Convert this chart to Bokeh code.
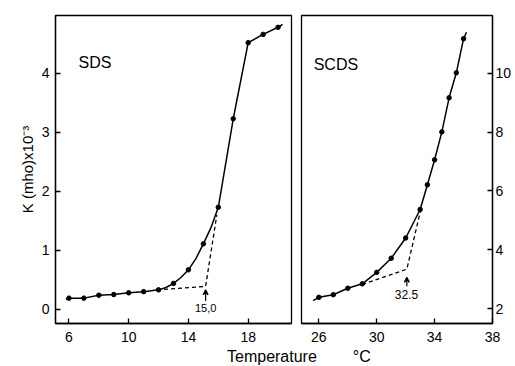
from bokeh.plotting import figure
from bokeh.layouts import row, column
from bokeh.models import Div, Label, Arrow, VeeHead, FixedTicker
from bokeh.embed import file_html
from bokeh.resources import INLINE

FONT = "Liberation Sans"

# ---- SDS (left panel) ----
sds_t = [6, 7, 8, 9, 10, 11, 12, 13, 14, 15, 16, 17, 18, 19, 20]
sds_k = [0.19, 0.19, 0.24, 0.25, 0.28, 0.30, 0.33, 0.44, 0.67, 1.11, 1.73, 3.23, 4.52, 4.66, 4.78]
sds_curve_t = [5.8, 6, 7, 8, 9, 10, 11, 12, 12.5, 13, 13.5, 14, 14.5, 15, 15.5, 16, 17, 18, 19, 20, 20.3]
sds_curve_k = [0.17, 0.19, 0.19, 0.24, 0.25, 0.28, 0.30, 0.33, 0.37, 0.44, 0.54, 0.67, 0.86, 1.11, 1.38, 1.73, 3.23, 4.52, 4.66, 4.78, 4.83]
sds_dash_t = [11.9, 15.15, 15.9]
sds_dash_k = [0.33, 0.39, 1.6]
sds_cmc_label = "15,0"
sds_arrow_x = [15.15, 15.15]
sds_arrow_y = [0.14, 0.33]
sds_xticks = [6, 10, 14, 18]
sds_yticks = [0, 1, 2, 3, 4]

# ---- SCDS (right panel) ----
scds_t = [26, 27, 28, 29, 30, 31, 32, 33, 33.5, 34, 34.5, 35, 35.5, 36]
scds_k = [2.38, 2.47, 2.69, 2.84, 3.23, 3.71, 4.40, 5.37, 6.21, 7.06, 8.01, 9.17, 10.02, 11.18]
scds_curve_t = [25.6] + scds_t + [36.2]
scds_curve_k = [2.27] + scds_k + [11.4]
scds_dash_t = [29.0, 32.08, 33.03]
scds_dash_k = [2.82, 3.34, 5.34]
scds_cmc_label = "32.5"
scds_arrow_x = [32.08, 32.08]
scds_arrow_y = [2.76, 3.06]
scds_xticks = [26, 30, 34, 38]
scds_yticks = [2, 4, 6, 8, 10]


def style(p, xticks, yticks):
    p.grid.visible = False
    p.outline_line_color = "black"
    p.outline_line_width = 1.3
    p.xaxis.ticker = FixedTicker(ticks=xticks)
    p.yaxis.ticker = FixedTicker(ticks=yticks)
    for ax in p.xaxis + p.yaxis:
        ax.minor_tick_line_color = None
        ax.major_tick_in = 5
        ax.major_tick_out = 0
        ax.axis_line_width = 1.3
        ax.major_tick_line_width = 1.3
        ax.major_label_text_font = FONT
        ax.major_label_text_font_size = "14px"
        ax.major_label_text_color = "black"
        ax.axis_label_text_font = FONT
        ax.axis_label_text_font_style = "normal"
        ax.axis_label_text_font_size = "15px"
        ax.axis_label_text_color = "black"
    p.xaxis.major_label_standoff = 8
    p.yaxis.major_label_standoff = 6


p1 = figure(width=293, height=348, x_range=(5.1, 20.9), y_range=(-0.24, 4.98),
            output_backend="svg", toolbar_location=None,
            min_border_left=55, min_border_right=2, min_border_top=15, min_border_bottom=25)
style(p1, sds_xticks, sds_yticks)
p1.yaxis.axis_label = "K (mho)x10⁻³"
p1.yaxis.axis_label_standoff = 3
p1.line(sds_curve_t, sds_curve_k, line_color="black", line_width=1.5)
p1.line(sds_dash_t, sds_dash_k, line_color="black", line_width=1.3, line_dash="4 3")
p1.scatter(sds_t, sds_k, size=4.5, fill_color="black", line_color="black")
p1.add_layout(Arrow(end=VeeHead(size=5, line_color="black", line_width=1.2),
                    x_start=sds_arrow_x[0], y_start=sds_arrow_y[0],
                    x_end=sds_arrow_x[1], y_end=sds_arrow_y[1], line_width=1.2))
p1.add_layout(Label(x=sds_arrow_x[0], y=0.025, text=sds_cmc_label, text_align="center",
                    text_baseline="middle", text_font=FONT, text_font_size="11px",
                    text_color="black"))
p1.add_layout(Label(x=6.64, y=4.19, text="SDS", text_baseline="alphabetic",
                    text_font=FONT, text_font_size="16px", text_color="black"))

p2 = figure(width=221, height=348, x_range=(24.8, 38), y_range=(1.49, 11.97),
            output_backend="svg", toolbar_location=None, y_axis_location="right",
            min_border_left=8, min_border_right=20, min_border_top=15, min_border_bottom=25)
style(p2, scds_xticks, scds_yticks)
p2.yaxis.major_label_standoff = 3
p2.line(scds_curve_t, scds_curve_k, line_color="black", line_width=1.5)
p2.line(scds_dash_t, scds_dash_k, line_color="black", line_width=1.3, line_dash="4 3")
p2.scatter(scds_t, scds_k, size=4.5, fill_color="black", line_color="black")
p2.add_layout(Arrow(end=VeeHead(size=5, line_color="black", line_width=1.2),
                    x_start=scds_arrow_x[0], y_start=scds_arrow_y[0],
                    x_end=scds_arrow_x[1], y_end=scds_arrow_y[1], line_width=1.2))
p2.add_layout(Label(x=32.05, y=2.49, text=scds_cmc_label, text_align="center",
                    text_baseline="middle", text_font=FONT, text_font_size="12px",
                    text_color="black"))
p2.add_layout(Label(x=25.64, y=10.31, text="SCDS", text_baseline="alphabetic",
                    text_font=FONT, text_font_size="16px", text_color="black"))

xlabel = Div(text='<span>Temperature</span><span style="margin-left:36px">°C</span>',
             width=500, height=18, margin=(0, 0, 0, 0),
             styles={"font-family": FONT, "font-size": "16px", "padding-left": "227px",
                     "white-space": "nowrap", "line-height": "18px", "color": "black"})

layout = column(row(p1, p2, spacing=0), xlabel, spacing=0)
open("out.html", "w").write(file_html(layout, INLINE))
